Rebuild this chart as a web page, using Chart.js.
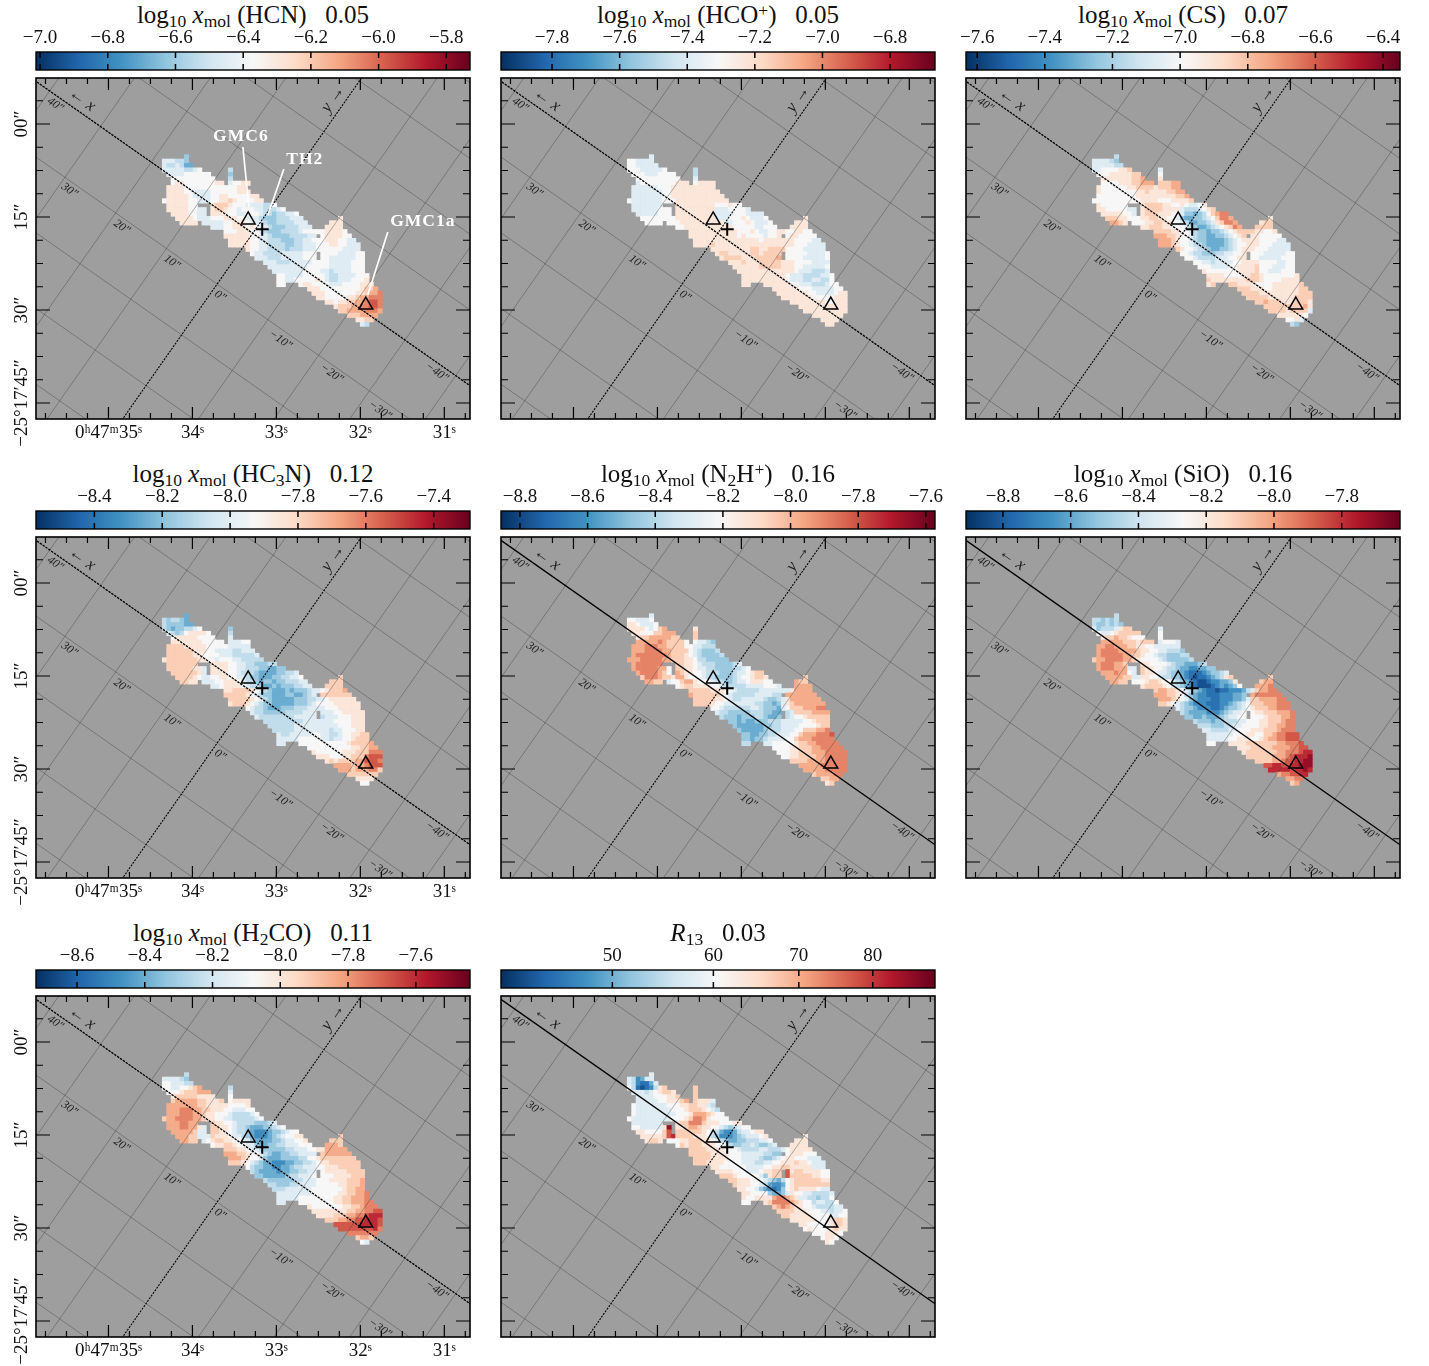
<!DOCTYPE html>
<html>
<head>
<meta charset="utf-8">
<title>Molecular abundance maps</title>
<script src="https://cdn.jsdelivr.net/npm/chart.js@4"></script>
<style>
  html, body { margin: 0; background: #fff; }
  #page { position: relative; width: 1429px; height: 1366px; overflow: hidden; }
  canvas { position: absolute; }
  .ttl { position: absolute; width: 434px; text-align: center; white-space: pre; color: #111;
         font: 25px "Liberation Serif", serif; line-height: 28px; }
  .ttl sub, .ttl sup { font-size: 0.7em; line-height: 0; }
  .ttl sub { vertical-align: -0.22em; }
  .ttl sup { vertical-align: 0.42em; }
</style>
</head>
<body>
<div id="page"></div>
<script>
// first column of every row of the map, shared by all panels
const rowStart = [6,1,1,1,2,3,3,2,2,2,1,2,2,3,4,5,12,15,15,16,16,20,21,22,24,25,26,27,27,27,34,35,36,38,40,41,43,45,46];

// a = bottom of the colour scale, i = middle, q = top, . = no data
const rowsHCN = ["fg","hhhggff","hgghgeeg","hhhhhgghii.....g","hhhhiiiiiii...f","iiiiiiiiiij..g","ijjiiiiiiijj.hiijjj",
"jjjjiiiiiiiiiiiijjj","jjjjiihhhhiiiiiijjjj","jjjjjihhhhiijjiiiiijjj","ijjjjjiihhhiijjkjiiiijjj","jjjjjiih..jkkkjiiihhhhggii",
"jjjjjiihh.jkkjiihiiihhggghii","jjjjiihh.jjjjiihhiiihggfgghhii","jjjjihhhiiijjjiihhhgfffggghhhi.......j","jjjj.hhhhhiijjjihhhgffgggghhhi....jjji",
"hhhiijjjijihhgfffggghhhi..jjjji","iiijjjiihgfffgggghiiiiijjjjii","jjjjjjiihhgffffgggghh.ijjjjiii","jjjjjiihhgggfffgghhiiijjjiihhi",
"jjjjjiihhggggffgghhhiiijjiihhhh","jiihhggggfggghhhiiiiiihhhhh","ihhgggghhhhhiii.iiiihhhhiii","hhhggghhhhhiii.iihhhhhhiii",
"hhhggghhhhhiiiihhhhhiiii","hhhhhhhhhiiiiihhhhhiiii","hhhhhhhiiiihhghhhhiiii","iihhhhiiiiihgghhhhiiij","iihhiiiiijihgghhhiiijj",
"iii..ijjiiiihhhiiiijjjk","jjjiiiiiiiiijkkll","jjjiiiiiiijjkllmm","jjiiiiijjkllmmml","jjijjkkllmnnml","jkkkllmmnnml","kkllllmmmlk","kkkllllk","jjkkj","hgh"];

const rowsHCOp = ["hh","iihhhhh","iihhhhhi","iiihhhhhii.....g","iiihhhiiiii...g","iiiiiiiiiij..h","hiiiiiiiijjj.ijjjjj",
"hhhhhhiiijjjjjjjjjjj","hhhhhhhiijjjjjjjjjjjj","hhhhhhhiijjjjjjjjjjjjj","ihhhhhhhiiijjjjjjjjjjjjj","hhhhhhhi..jjjjjjjjjiiijiih",
"hhhhhhiii.jjjjjjjjjhhhiiiihh","hhhhhiii.jjjjjjjjjhhhhiiihhhhh","iiiiiiiijjjjjjjjjhhhiiijihhhii.......j","iiii.iiijjjjjjjjjjhhiiijihhhij....jjji",
"iijjjjjjjjjjjiiiiihhiiij..jjjjh","jjjjjjjjjjjiiijihhiijjiijjiih","jjjjjjjjjjjijiiiihiij.ijjiiiih","jjjjjjjjjjjjjjjijjjjjjjiiiihhh",
"jjjjkjjjjjjjjjjjjjjjjjjiiihhhhh","jjjjjjjjjkkjjkkkkiiiihhhhhh","jkkjjjjjkkjkkkk.iiiiihhhhii","jkkkkjjjkkkkkl.iiiihhhhhii",
"jjjkjjjkkkkkjjjiiiihhhhi","jjjjjjkkkkkjjjiihhhhhii","jjjjjjjjjjjjjihhhggghi","jjjjjjjjjjihhhgggghhii","jjjjjjjjjjihhhgghhggii",
"jjj..jjjjjjiihhhggghiii","jjjjjjiiihhhhhiij","jjjjjjjiihhhhijjj","jjjjjjjiiiiijjjj","jjjjjjjjiijjjj","jjjjjjjjjjjj","jjjjjjjjjjj","jjjjjjjj","jjjjj","jjj"];

const rowsCS = ["gf","hhhhgff","hhhhhggi","hhiiiijjkk.....h","iiijjjjjkkk...i","jjjjjjjkkll..j","iiiijjjkklll.kkklll",
"jiiiiiijjkkkkjkkklll","jiiiiiiiijjkjjjjkklll","iiiiiiiiijjjjjjjjjkkll","iiiiiiiiiiijjjjiiijjjjkk","jiiiiiih..jkkkkjjiijihhijk",
"jjiiiiihh.jkkkkjjjjhggghijkl","jjjjjiih.jkkkjjjiihffefgiklmmk","kkkjjiiijjkkjjiihfeeffghikmmlk.......j","llkj.iiijjkkjjiihgeeffghjkmmlk....jkkk",
"jjkkkjjiiihgfeefghijkmlk..kkkkj","kkkkjjiihgffeffghijkkkkjjiiji","lllkkjiihgffeeffghijk.jjiiiiii","lllkjiihgffeeeefghijjjjiiiihhi",
"lllkjiihggfeeeefghiijjjiiihhhhi","kjiihggfeeffghijjjiiihhhhhi","iihggfffgghhiij.iiihhhhhiii","iihgggghhhiijj.iihhhhhiiij",
"iihhghhhhiijjjjiiiihhiij","iiihhhhiijjjjkiiihhhiij","jiiiiiiijjjjkiihhhiiij","jjjjiiiijjkkjiiiiiiijj","kjjjjjjjjkkkjiiiijjjjj",
"jkj..kkjjjjiiiijjjjjjkk","kkkjjjiijjjjjjkkk","kkkkjjjjjjjjjkkkj","kkkkkjjjjjjkkkki","kklkkkjjjkkkjh","kkkkkkkkkljg","kkkkjkkkkhg","jjjjjjih","iijhg","gfg"];

const rowsHC3N = ["ee","gfggfee","gffffeef","gfeffgghii.....f","hgfgijjjjii...g","ijjjjjiiiii..h","jjjjjjjiiiii.hhhiih",
"kkkkjjjjjiiiiihhhhhh","kkkkkkjjjiihhhhgghhhh","kkkkkkjjiiiihhhggggghh","jkkkkkkkjjiihiiihhgggggh","kkkkkkkj..jjjjiihhggfffggh",
"kkkkkkjjh.jjjjiihhgggffeeffg","kkkkkkjh.jjjjiihgggfeeeeffgghh","kkkkjihhiijjiihhgffeeeffgghhii.......k","kkjj.hhhiijjjihggfeffeffggghhi....kkkl",
"hhijjjjihggfeefefffgghhi..kkkkl","jjkkkkjihgfeeefefffghhijkkkll","kkkkkjihgffeeeffeefgh.kkkkkkkk","kkkkkjihgfeeeeefffgghhijjjjjjk",
"jkkkjihgffeeeeefffghiiiijjjjjjk","ihggfeeefffggghhhhiiijjjjjj","hggfffffgggghhh.hhhiijjjjjj","hgggggggghhhhh.ghhhiiijjjj",
"ggggggggghhhhhhhiiiijjjj","gggggghhhhhhhhhhiiijjjj","ggggghhhhhhhhghhiiijjk","hgghhhhhiihhgghiijjkkk","hhhhhiiiiihhghhiijkkkk",
"hhh..iiiiiiiiiiijkkkkll","iiiiiiiiiijjkkllm","jiiiiiijjjkkkmmmm","jjjiiijjkkkmnnnm","jkjkkkkllnnnml","llllkllmnnnk","lllklllmmkj","kkkkkkkj","jjjji","iij"];

const rowsN2Hp = ["hh","iihhhii","jjihhhij","jjjjihikll.....j","jjiiikkllll...k","jkklllllkkk..k","lllllmlkkkki.ihhgfg",
"lllmmmllkkkkiihhgggf","lllmmmmllkkkkihgfffgg","lmmmmmmmlkkkjihgffffgg","lllmmmmmllkkkjjiggfffffg","lmmmmmml..kkjjihgggffffghi",
"lmmmmmlli.kkjjihhggffffgghij","lmmmmlki.lkjjiihgggfffghhijkkk","kmmmlkkjlljiiihggffffghiijkkjj.......k","llkk.hiiklljiiihggffghhijjjiii....lkkk",
"ijkkjjjjiihggggghhhhiiihh..lllll","kkkkkjjjiihggggghhhhhhhjlllll","lkkkkkkjihggggghhhhgg.llllllll","kkkkkjjihgghhhhhgffghjllllllll",
"kkkkjiihhhhhhhggffefhjkllllllll","iihgggggghhgfffehikkklllmmm","hggfffffgggffee.ghkkkkllllk","gfffefffggfeef.ghiijkkkkkk",
"ffefeefffggghhhhhiijkkkk","feeeeeeffgghhhhiiiijkkl","feeeeefggghhhiikkkllmm","ffeeffgghhhiiklllmmmnm","ffeffghhhhiiklllmmmmml",
"ggf..hhiiiiijkkllmmmmmm","iiiijjkkkllmmmmml","iiijjkkklllmmmmml","iijjkkkkllmmmmmm","kkkkllllmmmmmm","lllllmmmmmmm","lllllmmmmml","kllllmmk","kkllk","jkj"];

const rowsSiO = ["gf","ggfgfgf","gffgfgfh","hfggghjkkk.....h","ihhijkkkkkk...i","jkklkkjiiii..i","lllllkkkjkkk.hiiihh",
"llmmlllkkjjiihhhhhhh","lmmmmllllkjjiihhgggff","lmmmmmllkkjiihggfffggg","kllmmmmllkjiiiihgfffffgg","lmmmllkh..jjiiiihgffeeefgh",
"lmmmlllhh.kjjiihggfeeddeeffg","lllmllih.kjjihhgffedcccdeffghi","llllkkhhjjiihggffedcbccdefgjkk.......k","llkk.iiijkkjiihgfedcbbcddeefjk....klll",
"jkkkkjihgfedcbbbcdedefij..lllmm","kllkkjihgfedccbccdddeghkllmmm","lllkkjigfeddcccdddeef.lmmmmmml","lllkjihfedddccdddeefhkkllllmml",
"kkjihgfedddcccddefghikkklllmmmm","hgffedddccdeffghijkkkllmmmn","gfeeeedddefghhi.ijjkkklllmm","ffeefeeefghhii.iiijkkkllmm",
"gfffeffggghhiiijjkkklmmm","gggfffgghhiiiijjkkllmmm","hhgggghhiiijjjkkklmmmn","hhhhhhiiijjiikklmmnnnn","hhhhhiijjjiijkllmmnnnn",
"iih..jjjjkkkkkkkllmmmnn","jjjkkkkkllllmmnnn","jkkkkkkkllmmmnoop","kkkkkklllmnooopp","kkkkllmnnooppp","nnoonnoopppp","ooooonoopon","lmmnnoon","llmml","klk"];

const rowsH2CO = ["gg","hhhhgfg","iihhhggj","iihhiijkll.....g","iiijkkklllk...h","jkkkkkjjjji..i","klllllkkjjjk.ijjjjj",
"lllllllkkjjjjjiiiijj","lllmmmllkkjjjiihhhiij","lllmmmllkjjiiihgggghii","kllmmmmllkjjiihhggggghii","lllmmllk..kjjiihggggfffghi",
"lllmmlljh.kkjjihggfeeeffghii","lllllkhh.kkjjihggfedddeffghiij","lllkkhhhkjjjihhgfedddefghiijjk.......k","llkk.hijkkjjiihhfeeeeffghhiijk....kkkl",
"ijjkkjiihhfeeffgghhhiiij..lllkl","kkkjjihhgfffffgghhhiijjllllll","lllkkjiihgfeeffgghhhh.kllllllk","lllkjiihfeeeffffggiijkkkkkkkkl",
"kkkjihgfeedddeeffgghijjkkkkkkkk","igffeeddeefgghhhiijjjkkkkkk","gfeeeedeeffgghh.ijjjjjkkkkk","ffeeeeefgghhhi.iiijjjjkkkl",
"gffffffgghhhiiijjjjkkkll","ggfffgghhhhiiiiijjkkkll","ggghhhhhhiiiiiiijkkllm","hhhhhhhhiiiiiijjkkllmm","hhhhhiiiiiiiijjkklllmm",
"hhh..iiiiiiiijjkklllmmm","jiiiiiiijjkklmmmn","jjjjjjjjkkllmmnno","jjjjkkkllmmnooon","kkkllmmnnooonm","nnnnnnoooonl","nnnnnnnnomk","mmmmmmml","kllkj","ihi"];

const rowsR13 = ["hh","hgdehhg","hgdccehj","igcbcdgjkk.....k","hhhghijkkjj...k","hhhhiiijjkl..k","hhhhhiijjjkl.kjjjhg",
"ihhhhhhhiiijjkkjjhgg","ihhhhhhhhiiijkkkjihgg","ihhhhhhhhhiiijlllkjiih","ihhhhhhhhhiiijkmmljiiiij","hhhhhhhh..jkkmmmkjjjiiijjj",
"iihhhhhjp.jjkllkjjiihgfghiij","jjiiiikn.kkkkkkjihgeddeghhijjj","jjjjjknokkkkjjjigfdddefghhhijk.......j","jkkj.iiijjkkkjjihgfeeffggghhij....jjjk",
"ikjkkkjjjiihgffgghgffghi..jjjjk","kkkkjjjjiiihgggghhggghijjjjjk","kkkkkjjjjiiihhhhhggff.ijjjiiij","kkkkjjjjiiihhhhgffghijjiiihhhi",
"kkkjjjjiiiihhhgghhiijjjkjjihhhh","jjiiiiiihhhhiijjkkjjjjjhhhi","jjjjiiihhhijjkk.njkkjjjjiii","kkkjiiiiihfjkk.nkkkkkjjiij",
"kkjjjiiihgfegijkkkkkkjjk","kjjjiihgeddeijkkkkkkkkl","jjiihfedcdfijkjjjjihhj","jjiiiifeefhjiihhgggghi","jiijjjjlmmlkjhhggfggij",
"iij..jkmmmmlkjiighhggij","klmlkjjiihgggghhi","kkkkjjjiiihhghhij","kkjjjjjiiiihhiij","jjjjjjiiijkkjj","jjiiiiijkkjj","ijiiiijkjji","iiijjjii","ijjii","jij"];

// colour bar ticks and limits
const ticksHCN = [-7.0,-6.8,-6.6,-6.4,-6.2,-6.0,-5.8];
const ticksHCOp = [-7.8,-7.6,-7.4,-7.2,-7.0,-6.8];
const ticksCS = [-7.6,-7.4,-7.2,-7.0,-6.8,-6.6,-6.4];
const ticksHC3N = [-8.4,-8.2,-8.0,-7.8,-7.6,-7.4];
const ticksN2Hp = [-8.8,-8.6,-8.4,-8.2,-8.0,-7.8,-7.6];
const ticksSiO = [-8.8,-8.6,-8.4,-8.2,-8.0,-7.8];
const ticksH2CO = [-8.6,-8.4,-8.2,-8.0,-7.8,-7.6];
const ticksR13 = [50,60,70,80];
const limits = [[-7.012,-5.73],[-7.951,-6.667],[-7.633,-6.35],[-8.572,-7.293],[-8.856,-7.573],[-8.909,-7.628],[-8.721,-7.44],[40.9,89.5]];

const titles = [
  'log<sub>10</sub> <i>x</i><sub>mol</sub> (HCN)   0.05',
  'log<sub>10</sub> <i>x</i><sub>mol</sub> (HCO<sup>+</sup>)   0.05',
  'log<sub>10</sub> <i>x</i><sub>mol</sub> (CS)   0.07',
  'log<sub>10</sub> <i>x</i><sub>mol</sub> (HC<sub>3</sub>N)   0.12',
  'log<sub>10</sub> <i>x</i><sub>mol</sub> (N<sub>2</sub>H<sup>+</sup>)   0.16',
  'log<sub>10</sub> <i>x</i><sub>mol</sub> (SiO)   0.16',
  'log<sub>10</sub> <i>x</i><sub>mol</sub> (H<sub>2</sub>CO)   0.11',
  '<i>R</i><sub>13</sub>   0.03'
];
const allRows = [rowsHCN,rowsHCOp,rowsCS,rowsHC3N,rowsN2Hp,rowsSiO,rowsH2CO,rowsR13];
const allTicks = [ticksHCN,ticksHCOp,ticksCS,ticksHC3N,ticksN2Hp,ticksSiO,ticksH2CO,ticksR13];
const solidAxis = [false,false,false,false,true,true,false,true];
const labelled = [true,false,false,true,false,false,true,false];

// sky axes: right ascension seconds, declination arcsec below -25 17 00
const raTicks = [35,34,33,32,31];
const raLabels = ['0ʰ47ᵐ35ˢ','34ˢ','33ˢ','32ˢ','31ˢ'];
const decTicks = [0,15,30,45];
const decLabels = ['00″','15″','30″','−25°17′45″'];
const raRange = [30.694,35.863];
const decRange = [-7.42,47.58];
const raMinor = [];
for (let v = 35.75; v > 30.7; v -= 0.25) raMinor.push(v);
const decMinor = [];
for (let v = -3.75; v < 47.5; v += 3.75) decMinor.push(v);

// offset frame drawn over the sky
const gridOffsets = [-70,-60,-50,-40,-30,-20,-10,10,20,30,40,50,60,70];
const offsetLabels = [['40″',38,-1.3],['30″',28.2,-11.3],['20″',17.9,-11.3],['10″',8,-11.3],['0″',-1.5,-11.3],
  ['−10″',-13.5,-11.5],['−20″',-23.4,-11.2],['−30″',-33.2,-11.6],['−40″',-37.2,-1.3]];
const sources = [{x:33.336,y:15.48},{x:31.935,y:29.2}];
const plusMark = [{x:33.169,y:16.98}];
const callouts = [
  {text:'GMC6',x:33.423,y:2.07,line:[{x:33.399,y:3.71},{x:33.327,y:13.39}]},
  {text:'TH2',x:32.661,y:5.78,line:[{x:32.911,y:7.26},{x:33.101,y:14.68}]},
  {text:'GMC1a',x:31.256,y:15.78,line:[{x:31.673,y:17.42},{x:31.911,y:27.58}]}
];

const RdBu = [[5,48,97],[33,102,172],[67,147,195],[146,197,222],[209,229,240],[247,247,247],[253,219,199],[244,165,130],[214,96,77],[178,24,43],[103,0,31]];
function rdbu(t) {
  const p = Math.max(0, Math.min(0.9999, t)) * 10, i = Math.floor(p), f = p - i;
  const c = RdBu[i].map((a, k) => Math.round(a + (RdBu[i + 1][k] - a) * f));
  return `rgb(${c[0]},${c[1]},${c[2]})`;
}
const toSky = (X, Y) => ({ x: 33.282 + (0.819 * X - 0.574 * Y) * 0.0738, y: 17.63 - 0.574 * X - 0.819 * Y });

const SERIF = '"Liberation Serif", serif';
const page = document.getElementById('page');
const colX = [36,501,966], mapY = [78,537,996], barY = [52,511,970];
const MAP_W = 434, MAP_H = 341, BAR_H = 18;

function addCanvas(left, top, w, h) {
  const c = document.createElement('canvas');
  c.width = w; c.height = h;
  c.style.cssText = `left:${left}px;top:${top}px;width:${w}px;height:${h}px`;
  page.appendChild(c);
  return c;
}

function lineSet(data, color, width, dash, order) {
  return { data, showLine: true, borderColor: color, borderWidth: width, borderDash: dash, pointRadius: 0, order };
}

function cellData(rows, vmin, vmax) {
  const pts = [], colors = [];
  rows.forEach((row, r) => {
    [...row].forEach((ch, i) => {
      if (ch === '.') return;
      // the rows were read one column too long on their outer right edge
      const hasLeft = i > 0 && row[i - 1] !== '.';
      const atEnd = i === row.length - 1 || (row[i + 1] === '.' && row[i + 2] === '.');
      if (hasLeft && atEnd) return;
      const t = (ch.charCodeAt(0) - 97) / 16;
      // cell centres on the sky grid, 0.0524 s by 0.71 arcsec
      pts.push({ x: 34.385 - (rowStart[r] + i) * 0.0524, y: 5.3 + r * 0.71, v: vmin + t * (vmax - vmin) });
      colors.push(rdbu(t));
    });
  });
  return { pts, colors };
}

const frameAndTicks = {
  id: 'frameAndTicks',
  beforeDraw(chart) {
    const a = chart.chartArea, ctx = chart.ctx;
    ctx.fillStyle = '#9e9e9e';
    ctx.fillRect(a.left, a.top, a.width, a.height);
  },
  afterDraw(chart) {
    const a = chart.chartArea, ctx = chart.ctx, sx = chart.scales.x, sy = chart.scales.y;
    ctx.save();
    ctx.strokeStyle = '#000';
    ctx.lineWidth = 1.2;
    ctx.beginPath();
    const xt = (vals, len) => vals.forEach(v => {
      const p = sx.getPixelForValue(v);
      ctx.moveTo(p, a.top); ctx.lineTo(p, a.top + len);
      ctx.moveTo(p, a.bottom); ctx.lineTo(p, a.bottom - len);
    });
    const yt = (vals, len) => vals.forEach(v => {
      const p = sy.getPixelForValue(v);
      ctx.moveTo(a.left, p); ctx.lineTo(a.left + len, p);
      ctx.moveTo(a.right, p); ctx.lineTo(a.right - len, p);
    });
    xt(raTicks, 12); xt(raMinor, 6);
    yt(decTicks, 14); yt(decMinor, 7);
    ctx.stroke();
    ctx.lineWidth = 1.6;
    ctx.strokeRect(a.left, a.top, a.width, a.height);
    ctx.restore();
  }
};

const frameText = {
  id: 'frameText',
  afterDatasetsDraw(chart, args, opts) {
    const ctx = chart.ctx, sx = chart.scales.x, sy = chart.scales.y;
    const put = (text, sky, rot, font, color, spacing) => {
      ctx.save();
      ctx.translate(sx.getPixelForValue(sky.x), sy.getPixelForValue(sky.y));
      ctx.rotate(rot);
      ctx.font = font; ctx.fillStyle = color;
      ctx.letterSpacing = spacing || '0px';
      ctx.textAlign = 'center'; ctx.textBaseline = 'middle';
      ctx.fillText(text, 0, 0);
      ctx.restore();
    };
    const tilt = 35 * Math.PI / 180;
    offsetLabels.forEach(o => put(o[0], toSky(o[1], o[2]), tilt, `italic 12px ${SERIF}`, '#222'));
    put('← x', toSky(34.9, 1.8), tilt, `italic 17px ${SERIF}`, '#222');
    put('y →', toSky(1.8, 25.2), -55 * Math.PI / 180, `italic 17px ${SERIF}`, '#222');
    if (opts.callouts) callouts.forEach(c => put(c.text, c, 0, `bold 17.5px ${SERIF}`, '#fff', '1px'));
  }
};

function drawMap(i) {
  const col = i % 3, row = Math.floor(i / 3), [vmin, vmax] = limits[i];
  const canvas = addCanvas(colX[col] - 36, mapY[row] - 2, 36 + MAP_W + 3, 2 + MAP_H + 32);
  const cells = cellData(allRows[i], vmin, vmax);
  const datasets = [{
    data: cells.pts, pointStyle: 'rect', pointRadius: 3.6, pointBorderWidth: 0,
    pointBackgroundColor: cells.colors, showLine: false, order: 30
  }];
  gridOffsets.forEach(k => {
    datasets.push(lineSet([toSky(k, -90), toSky(k, 90)], 'rgba(55,55,55,0.55)', 0.7, [], 20));
    datasets.push(lineSet([toSky(-90, k), toSky(90, k)], 'rgba(55,55,55,0.55)', 0.7, [], 20));
  });
  datasets.push(lineSet([toSky(-90, 0), toSky(90, 0)], '#000', 1.3, solidAxis[i] ? [] : [2.5, 1], 10));
  datasets.push(lineSet([toSky(0, -90), toSky(0, 90)], '#000', 1.1, [2, 1.2], 10));
  if (i === 0) callouts.forEach(c => datasets.push(lineSet(c.line, '#fff', 1.7, [], 5)));
  datasets.push({ data: sources, pointStyle: 'triangle', pointRadius: 8, pointBorderWidth: 1.5,
    pointBorderColor: '#000', pointBackgroundColor: 'rgba(0,0,0,0)', showLine: false, order: 1 });
  datasets.push({ data: plusMark, pointStyle: 'cross', pointRadius: 6.5, pointBorderWidth: 2,
    pointBorderColor: '#000', showLine: false, order: 1 });

  const show = labelled[i];
  new Chart(canvas, {
    type: 'scatter',
    data: { datasets },
    plugins: [frameAndTicks, frameText],
    options: {
      responsive: false,
      animation: false,
      layout: { autoPadding: false, padding: { top: 2, right: 3 } },
      events: [],
      plugins: { legend: { display: false }, tooltip: { enabled: false }, frameText: { callouts: i === 0 } },
      scales: {
        x: {
          min: raRange[0], max: raRange[1], reverse: true,
          grid: { display: false, drawTicks: false }, border: { display: false },
          afterBuildTicks: s => { s.ticks = raTicks.map(value => ({ value })); },
          afterFit: s => { s.height = 32; s.paddingLeft = 0; s.paddingRight = 0; },
          ticks: {
            display: show, autoSkip: false, maxRotation: 0, padding: 3, color: '#111',
            font: { family: SERIF, size: 19 },
            callback: v => raLabels[raTicks.indexOf(v)]
          }
        },
        y: {
          min: decRange[0], max: decRange[1], reverse: true,
          grid: { display: false, drawTicks: false }, border: { display: false },
          afterBuildTicks: s => { s.ticks = decTicks.map(value => ({ value })); },
          afterFit: s => { s.width = 36; s.paddingTop = 0; s.paddingBottom = 0; },
          ticks: {
            display: show, autoSkip: false, minRotation: 90, maxRotation: 90, crossAlign: 'center',
            padding: -30, color: '#111', font: { family: SERIF, size: 19 },
            callback: v => decLabels[decTicks.indexOf(v)]
          }
        }
      }
    }
  });
}

const barFill = {
  id: 'barFill',
  beforeDraw(chart) {
    const a = chart.chartArea, ctx = chart.ctx;
    const g = ctx.createLinearGradient(a.left, 0, a.right, 0);
    RdBu.forEach((c, k) => g.addColorStop(k / 10, `rgb(${c[0]},${c[1]},${c[2]})`));
    ctx.fillStyle = g;
    ctx.fillRect(a.left, a.top, a.width, a.height);
  },
  afterDraw(chart, args, opts) {
    const a = chart.chartArea, ctx = chart.ctx, sx = chart.scales.x;
    ctx.save();
    ctx.strokeStyle = '#000';
    ctx.lineWidth = 1.5;
    ctx.beginPath();
    opts.ticks.forEach(v => {
      const p = sx.getPixelForValue(v);
      ctx.moveTo(p, a.top); ctx.lineTo(p, a.top + 6);
      ctx.moveTo(p, a.bottom); ctx.lineTo(p, a.bottom - 6);
    });
    ctx.stroke();
    ctx.lineWidth = 1.4;
    ctx.strokeRect(a.left, a.top, a.width, a.height);
    ctx.restore();
  }
};

function drawBar(i) {
  const col = i % 3, row = Math.floor(i / 3), ticks = allTicks[i], isLog = i === 7;
  const canvas = addCanvas(colX[col] - 30, barY[row] - 24, MAP_W + 60, 24 + BAR_H + 2);
  new Chart(canvas, {
    type: 'scatter',
    data: { datasets: [] },
    plugins: [barFill],
    options: {
      responsive: false,
      animation: false,
      events: [],
      layout: { autoPadding: false, padding: { left: 30, right: 30, bottom: 2 } },
      plugins: { legend: { display: false }, tooltip: { enabled: false }, barFill: { ticks } },
      scales: {
        x: {
          type: isLog ? 'logarithmic' : 'linear',
          position: 'top', min: limits[i][0], max: limits[i][1],
          grid: { display: false, drawTicks: false }, border: { display: false },
          afterBuildTicks: s => { s.ticks = ticks.map(value => ({ value })); },
          afterFit: s => { s.height = 24; s.paddingLeft = 0; s.paddingRight = 0; },
          ticks: {
            autoSkip: false, maxRotation: 0, padding: 3, color: '#111',
            font: { family: SERIF, size: 19 },
            callback: v => isLog ? String(v) : v.toFixed(1).replace('-', '−')
          }
        },
        y: { display: false, min: 0, max: 1 }
      }
    }
  });
}

titles.forEach((html, i) => {
  const col = i % 3, row = Math.floor(i / 3);
  const t = document.createElement('div');
  t.className = 'ttl';
  t.innerHTML = html;
  t.style.left = colX[col] + 'px';
  t.style.top = (barY[row] - 51) + 'px';
  page.appendChild(t);
  drawBar(i);
  drawMap(i);
});
</script>
</body>
</html>
